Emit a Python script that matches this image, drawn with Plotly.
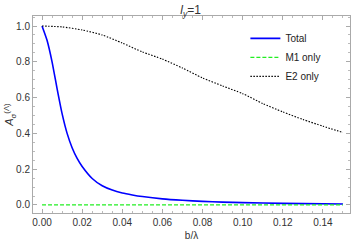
import plotly.graph_objects as go

x_total = [0, 0.0025, 0.005, 0.0075, 0.01, 0.0125, 0.015, 0.0175, 0.02, 0.025, 0.03, 0.035, 0.04, 0.045, 0.05,
           0.06, 0.07, 0.08, 0.09, 0.10, 0.12, 0.15]
y_total = [1.0, 0.92, 0.80, 0.65, 0.51, 0.40, 0.32, 0.26, 0.215, 0.148, 0.107, 0.083, 0.067, 0.056, 0.047,
           0.034, 0.026, 0.020, 0.016, 0.013, 0.009, 0.005]

x_m1 = [0, 0.15]
y_m1 = [0.0, 0.0]

x_e2 = [0, 0.01, 0.02, 0.03, 0.04, 0.05, 0.06, 0.07, 0.08, 0.09, 0.10, 0.11, 0.12, 0.13, 0.14, 0.15]
y_e2 = [1.0, 0.995, 0.978, 0.95, 0.905, 0.855, 0.815, 0.765, 0.71, 0.665, 0.622, 0.567, 0.52, 0.478, 0.44, 0.405]

x_ticks = [0, 0.02, 0.04, 0.06, 0.08, 0.10, 0.12, 0.14]
y_ticks = [0.0, 0.2, 0.4, 0.6, 0.8, 1.0]

FONT = "Liberation Sans, Arial"

fig = go.Figure()
fig.add_trace(go.Scatter(x=x_total, y=y_total, mode="lines", name="Total",
                         line=dict(color="#0000ff", width=1.6, shape="spline", smoothing=0.5)))
fig.add_trace(go.Scatter(x=x_m1, y=y_m1, mode="lines", name="M1 only",
                         line=dict(color="#22ee22", width=1.2, dash="4px,2px")))
fig.add_trace(go.Scatter(x=x_e2, y=y_e2, mode="lines", name="E2 only",
                         line=dict(color="#000000", width=1.1, dash="1.5px,1.5px", shape="spline", smoothing=0.6)))

axis_common = dict(showgrid=False, zeroline=False, showline=True, linecolor="#aaaaaa", linewidth=1,
                   mirror="allticks", ticks="inside", ticklen=4, tickcolor="#aaaaaa",
                   tickfont=dict(family=FONT, size=10, color="#333333"))

fig.update_xaxes(range=[-0.0045, 0.1535], tickvals=x_ticks, tickformat=".2f",
                 minor=dict(ticks="inside", ticklen=2, tickcolor="#bbbbbb", dtick=0.005),
                 title=dict(text="b/λ", font=dict(family=FONT, size=10, color="#333333"), standoff=4),
                 **axis_common)
fig.update_yaxes(range=[-0.045, 1.056], tickvals=y_ticks, tickformat=".1f",
                 minor=dict(ticks="inside", ticklen=2, tickcolor="#bbbbbb", dtick=0.05),
                 **axis_common)

fig.add_annotation(text="<i>A</i><sub>σ</sub><sup>(Λ)</sup>", xref="paper", yref="paper", x=-0.075, y=0.5,
                   textangle=-90, showarrow=False, xanchor="center", yanchor="middle",
                   font=dict(family=FONT, size=11, color="#333333"))

fig.update_layout(
    width=353, height=245,
    margin=dict(l=33, r=3, t=16, b=32),
    paper_bgcolor="white", plot_bgcolor="white",
    title=dict(text="<i>l</i><sub><i>y</i></sub>=1", x=0.54, xanchor="center", y=0.96, yanchor="middle",
               font=dict(family=FONT, size=12, color="#333333")),
    showlegend=True,
    legend=dict(x=0.67, y=0.96, xanchor="left", yanchor="top", bgcolor="rgba(0,0,0,0)",
                font=dict(family=FONT, size=10, color="#222222"),
                tracegroupgap=0, itemwidth=30),
)

fig.write_html("out.html", config={"displayModeBar": False},
               post_script="document.body.style.margin='0';document.body.style.padding='0';")
